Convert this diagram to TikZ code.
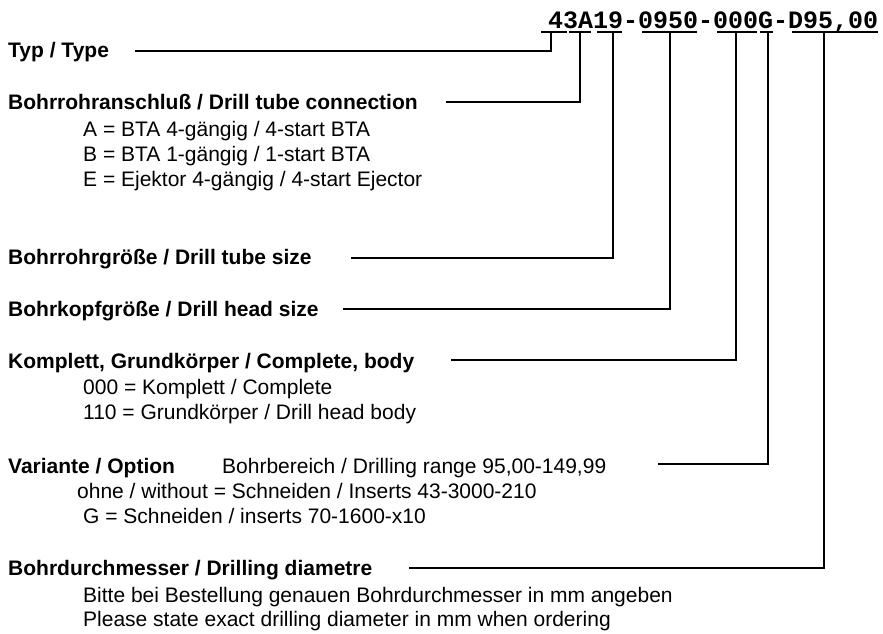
\documentclass[tikz,border=0pt]{standalone}
\usepackage{fontspec}
\setmainfont{Liberation Sans}
\newfontfamily\codefont{Liberation Mono}
\begin{document}
\begin{tikzpicture}[x=1pt,y=-1pt,
  lbl/.style={anchor=base west,inner sep=0pt,font=\fontsize{21}{25}\selectfont},
  head/.style={lbl,font=\fontsize{21}{25}\selectfont\bfseries},
  conn/.style={line width=1.2pt,line cap=rect},
  uline/.style={line width=1.2pt}]
\useasboundingbox[fill=white] (0,0) rectangle (883,633);
% code
\node[anchor=base west,inner sep=0pt,font=\fontsize{25}{28}\codefont\bfseries] (code) at (548,28) {43A19-0950-000G-D95,00};
\foreach \a/\b in {541/567,569/591,597/622,642/697,717/757,760/773,792/878}
  \draw[uline] (\a,32) -- (\b,32);
% labels
\node[head] (typ) at (8,57) {Typ / Type};
\node[head] (anschl) at (8,109) {Bohrrohranschluß / Drill tube connection};
\node[lbl] (a1) at (83,136) {A = BTA 4-gängig / 4-start BTA};
\node[lbl] (a2) at (83,161) {B = BTA 1-gängig / 1-start BTA};
\node[lbl] (a3) at (83,186) {E = Ejektor 4-gängig / 4-start Ejector};
\node[head] (rohr) at (8,264) {Bohrrohrgröße / Drill tube size};
\node[head] (kopf) at (8,316) {Bohrkopfgröße / Drill head size};
\node[head] (kompl) at (8,368) {Komplett, Grundkörper / Complete, body};
\node[lbl] (k1) at (83,394) {000 = Komplett / Complete};
\node[lbl] (k2) at (83,419) {110 = Grundkörper / Drill head body};
\node[head] (var) at (8,473) {Variante / Option};
\node[lbl] (var2) at (222,473) {Bohrbereich / Drilling range 95,00-149,99};
\node[lbl] (v1) at (77,498) {ohne / without = Schneiden / Inserts 43-3000-210};
\node[lbl] (v2) at (83,523) {G = Schneiden / inserts 70-1600-x10};
\node[head] (durch) at (8,575) {Bohrdurchmesser / Drilling diametre};
\node[lbl] (d1) at (83,602) {Bitte bei Bestellung genauen Bohrdurchmesser in mm angeben};
\node[lbl] (d2) at (83,626) {Please state exact drilling diameter in mm when ordering};
% connector coordinates
\coordinate (s1) at (136,51);  \coordinate (e1) at (551,32);
\coordinate (s2) at (447,102); \coordinate (e2) at (580,32);
\coordinate (s3) at (352,258); \coordinate (e3) at (613,32);
\coordinate (s4) at (344,309); \coordinate (e4) at (670,32);
\coordinate (s5) at (452,360); \coordinate (e5) at (736,32);
\coordinate (s6) at (659,464); \coordinate (e6) at (768,32);
\coordinate (s7) at (410,568); \coordinate (e7) at (824,32);
\foreach \i in {1,...,7}
  \draw[conn] (s\i) -| (e\i);
\end{tikzpicture}
\end{document}
